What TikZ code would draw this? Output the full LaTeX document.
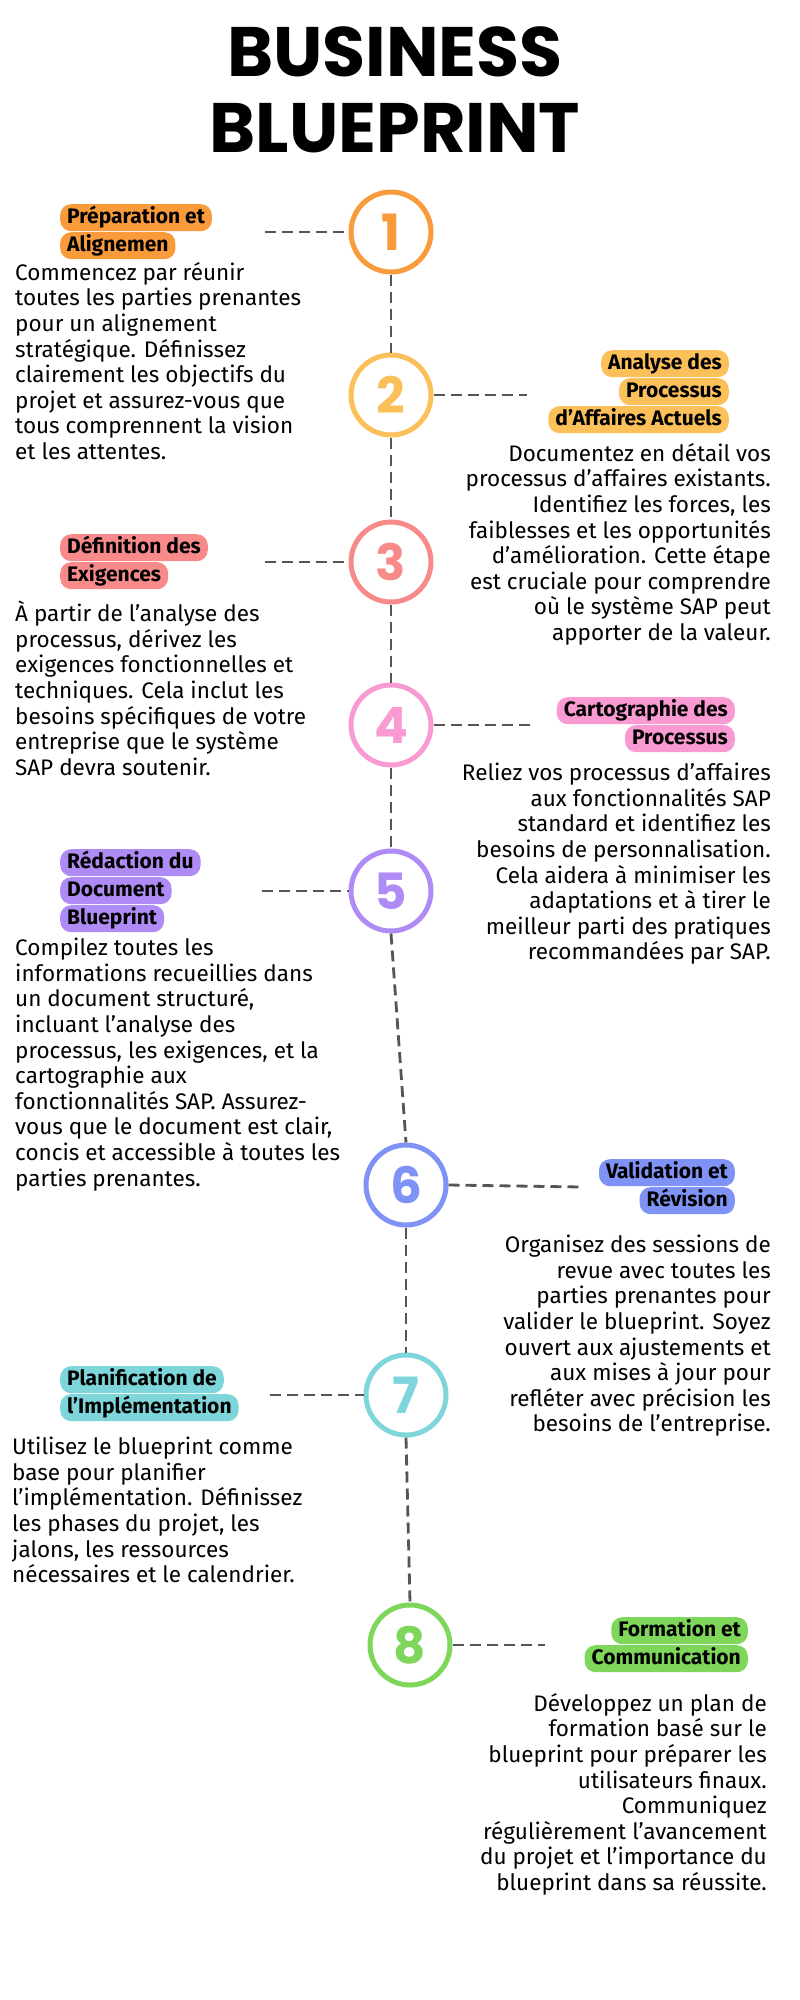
\documentclass[tikz,border=0pt]{standalone}
\usepackage{fontspec}
\setmainfont{Fira Sans}
\newfontfamily\titlefont{Poppins}
\usetikzlibrary{positioning}
\definecolor{cone}{HTML}{F99B3A}
\definecolor{ctwo}{HTML}{FCC05A}
\definecolor{cthree}{HTML}{F88A8A}
\definecolor{cfour}{HTML}{F99AD3}
\definecolor{cfive}{HTML}{AF8CF5}
\definecolor{csix}{HTML}{7E93F5}
\definecolor{cseven}{HTML}{7ED6DA}
\definecolor{ceight}{HTML}{7ED65A}
\definecolor{dashgray}{HTML}{555555}
\tikzset{
  stepcircle/.style={circle, draw=#1, line width=5pt, fill=white, minimum size=80pt,
    inner sep=0pt, font=\titlefont\fontsize{50}{50}\selectfont\bfseries, text=#1},
  labline/.style={fill=#1, rounded corners=11pt, inner xsep=7pt, inner ysep=2pt,
    font=\fontsize{21}{24}\selectfont\bfseries, text height=17pt, text depth=6pt},
  bodytext/.style={font=\fontsize{22.5}{25.6}\selectfont, inner sep=0pt},
  link/.style={dashgray, line width=2.8pt, dash pattern=on 11pt off 6pt},
}
\begin{document}
\begin{tikzpicture}[x=1pt,y=-1pt]
  \useasboundingbox[fill=white] (0,0) rectangle (800,2000);

  % Title
  \node[font=\titlefont\fontsize{70}{76}\selectfont\bfseries, align=center] (title) at (395,90)
    {BUSINESS\\BLUEPRINT};

  % Steps
  \node[stepcircle=cone] (s1) at (391,232) {1};
  \node[stepcircle=ctwo] (s2) at (391,395) {2};
  \node[stepcircle=cthree] (s3) at (391,562) {3};
  \node[stepcircle=cfour] (s4) at (391,725) {4};
  \node[stepcircle=cfive] (s5) at (391,891) {5};
  \node[stepcircle=csix] (s6) at (406,1185) {6};
  \node[stepcircle=cseven] (s7) at (406,1395) {7};
  \node[stepcircle=ceight] (s8) at (410,1645) {8};

  % Vertical links
  \foreach \a/\b in {s1/s2,s2/s3,s3/s4,s4/s5,s5/s6,s6/s7,s7/s8}
    \draw[link] (\a.south) -- (\b.north);

  % Step 1
  \node[labline=cone, anchor=north west] (l1a) at (60,204) {Préparation et};
  \node[labline=cone, anchor=north west] (l1b) at (60,232) {Alignemen};
  \coordinate (e1) at (265,232);
  \draw[link] (e1) -- (s1.west);
  \node[bodytext, anchor=north west, align=left] (t1) at (15,262)
    {Commencez par réunir\\toutes les parties prenantes\\pour un alignement\\stratégique. Définissez\\clairement les objectifs du\\projet et assurez-vous que\\tous comprennent la vision\\et les attentes.};

  % Step 2
  \node[labline=ctwo, anchor=north east] (l2a) at (729,350) {Analyse des};
  \node[labline=ctwo, anchor=north east] (l2b) at (729,378) {Processus};
  \node[labline=ctwo, anchor=north east] (l2c) at (729,406) {d'Affaires Actuels};
  \coordinate (e2) at (527,395);
  \draw[link] (s2.east) -- (e2);
  \node[bodytext, anchor=north east, align=right] (t2) at (771,443)
    {Documentez en détail vos\\processus d'affaires existants.\\Identifiez les forces, les\\faiblesses et les opportunités\\d'amélioration. Cette étape\\est cruciale pour comprendre\\où le système SAP peut\\apporter de la valeur.};

  % Step 3
  \node[labline=cthree, anchor=north west] (l3a) at (60,534) {Définition des};
  \node[labline=cthree, anchor=north west] (l3b) at (60,562) {Exigences};
  \coordinate (e3) at (265,562);
  \draw[link] (e3) -- (s3.west);
  \node[bodytext, anchor=north west, align=left] (t3) at (15,601)
    {À partir de l'analyse des\\processus, dérivez les\\exigences fonctionnelles et\\techniques. Cela inclut les\\besoins spécifiques de votre\\entreprise que le système\\SAP devra soutenir.};

  % Step 4
  \node[labline=cfour, anchor=north east] (l4a) at (735,697) {Cartographie des};
  \node[labline=cfour, anchor=north east] (l4b) at (735,725) {Processus};
  \coordinate (e4) at (533,725);
  \draw[link] (s4.east) -- (e4);
  \node[bodytext, anchor=north east, align=right] (t4) at (771,763)
    {Reliez vos processus d'affaires\\aux fonctionnalités SAP\\standard et identifiez les\\besoins de personnalisation.\\Cela aidera à minimiser les\\adaptations et à tirer le\\meilleur parti des pratiques\\recommandées par SAP.};

  % Step 5
  \node[labline=cfive, anchor=north west] (l5a) at (60,849) {Rédaction du};
  \node[labline=cfive, anchor=north west] (l5b) at (60,877) {Document};
  \node[labline=cfive, anchor=north west] (l5c) at (60,905) {Blueprint};
  \coordinate (e5) at (262,891);
  \draw[link] (e5) -- (s5.west);
  \node[bodytext, anchor=north west, align=left] (t5) at (15,938)
    {Compilez toutes les\\informations recueillies dans\\un document structuré,\\incluant l'analyse des\\processus, les exigences, et la\\cartographie aux\\fonctionnalités SAP. Assurez-\\vous que le document est clair,\\concis et accessible à toutes les\\parties prenantes.};

  % Step 6
  \node[labline=csix, anchor=north east] (l6a) at (735,1159) {Validation et};
  \node[labline=csix, anchor=north east] (l6b) at (735,1187) {Révision};
  \coordinate (e6) at (582,1187);
  \draw[link] (s6.east) -- (e6);
  \node[bodytext, anchor=north east, align=right] (t6) at (771,1235)
    {Organisez des sessions de\\revue avec toutes les\\parties prenantes pour\\valider le blueprint. Soyez\\ouvert aux ajustements et\\aux mises à jour pour\\refléter avec précision les\\besoins de l'entreprise.};

  % Step 7
  \node[labline=cseven, anchor=north west] (l7a) at (60,1366) {Planification de};
  \node[labline=cseven, anchor=north west] (l7b) at (60,1394) {l'Implémentation};
  \coordinate (e7) at (270,1395);
  \draw[link] (e7) -- (s7.west);
  \node[bodytext, anchor=north west, align=left] (t7) at (12,1437)
    {Utilisez le blueprint comme\\base pour planifier\\l'implémentation. Définissez\\les phases du projet, les\\jalons, les ressources\\nécessaires et le calendrier.};

  % Step 8
  \node[labline=ceight, anchor=north east] (l8a) at (748,1617) {Formation et};
  \node[labline=ceight, anchor=north east] (l8b) at (748,1645) {Communication};
  \coordinate (e8) at (545,1645);
  \draw[link] (s8.east) -- (e8);
  \node[bodytext, anchor=north east, align=right] (t8) at (767,1693)
    {Développez un plan de\\formation basé sur le\\blueprint pour préparer les\\utilisateurs finaux.\\Communiquez\\régulièrement l'avancement\\du projet et l'importance du\\blueprint dans sa réussite.};
\end{tikzpicture}
\end{document}
